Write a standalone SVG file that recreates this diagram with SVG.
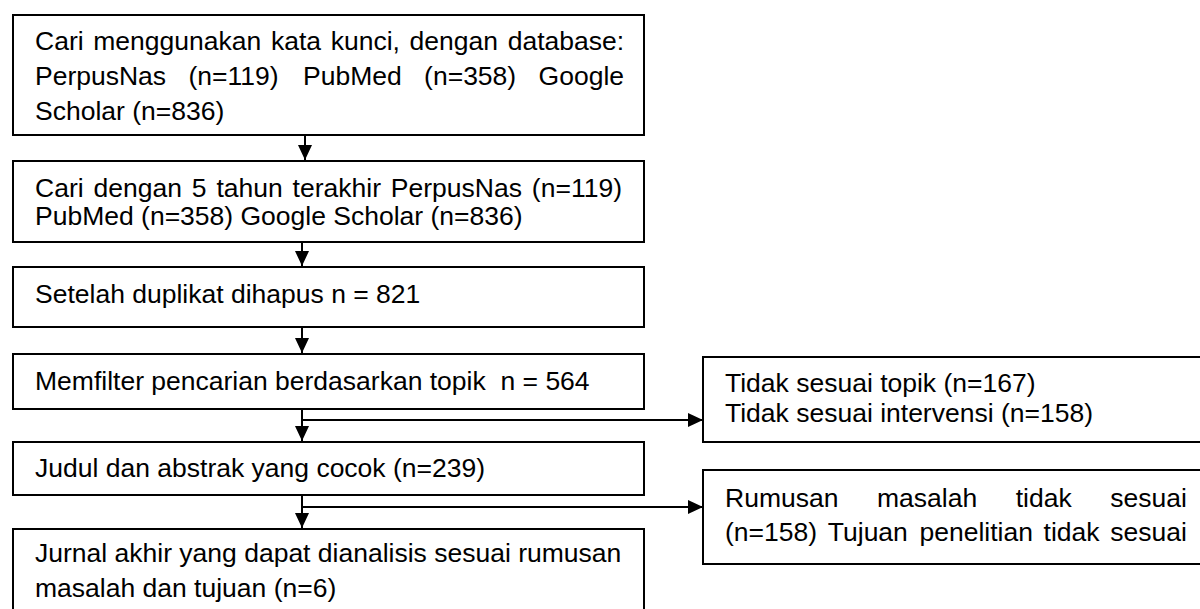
<svg xmlns="http://www.w3.org/2000/svg" width="1200" height="609" viewBox="0 0 1200 609">
<defs>
<style>
.box{fill:#fff;stroke:#000;stroke-width:2}
.t{font-family:"Liberation Sans",Arial,sans-serif;font-size:26.5px;fill:#000}
.c{stroke:#000;stroke-width:2;fill:none}
</style>
<marker id="ah" markerUnits="userSpaceOnUse" markerWidth="16" markerHeight="16" refX="15" refY="7" orient="auto" viewBox="0 0 16 14">
<path d="M0,0 L15,7 L0,14 z" fill="#000"/>
</marker>
</defs>
<rect width="1200" height="609" fill="#fff"/>
<g id="connectors">
<line class="c" x1="305" y1="135" x2="305" y2="160" marker-end="url(#ah)"/>
<line class="c" x1="302" y1="242" x2="302" y2="266" marker-end="url(#ah)"/>
<line class="c" x1="302" y1="327" x2="302" y2="353" marker-end="url(#ah)"/>
<line class="c" x1="302" y1="409" x2="302" y2="441" marker-end="url(#ah)"/>
<line class="c" x1="302" y1="420" x2="703" y2="420" marker-end="url(#ah)"/>
<line class="c" x1="302" y1="495" x2="302" y2="528" marker-end="url(#ah)"/>
<line class="c" x1="302" y1="507" x2="703" y2="507" marker-end="url(#ah)"/>
</g>
<g id="n1">
<rect class="box" x="13" y="15" width="631" height="120"/>
<text class="t" y="50"><tspan x="35">Cari</tspan><tspan x="93.3">menggunakan</tspan><tspan x="270.9">kata</tspan><tspan x="330.7">kunci,</tspan><tspan x="409.6">dengan</tspan><tspan x="507.7">database:</tspan></text>
<text class="t" y="85"><tspan x="35">PerpusNas</tspan><tspan x="188.5">(n=119)</tspan><tspan x="303">PubMed</tspan><tspan x="424.1">(n=358)</tspan><tspan x="538.6">Google</tspan></text>
<text class="t" x="35" y="120">Scholar (n=836)</text>
</g>
<g id="n2">
<rect class="box" x="13" y="161" width="631" height="81"/>
<text class="t" y="197"><tspan x="35">Cari</tspan><tspan x="93.5">dengan</tspan><tspan x="191.8">5</tspan><tspan x="216.4">tahun</tspan><tspan x="292.6">terakhir</tspan><tspan x="390.85">PerpusNas</tspan><tspan x="531.85">(n=119)</tspan></text>
<text class="t" x="35" y="225">PubMed (n=358) Google Scholar (n=836)</text>
</g>
<g id="n3">
<rect class="box" x="13" y="267" width="631" height="60"/>
<text class="t" x="35" y="303">Setelah duplikat dihapus n = 821</text>
</g>
<g id="n4">
<rect class="box" x="13" y="354" width="631" height="55"/>
<text class="t" x="35" y="390" xml:space="preserve">Memfilter pencarian berdasarkan topik  n = 564</text>
</g>
<g id="n5">
<rect class="box" x="13" y="442" width="631" height="53"/>
<text class="t" x="35" y="477">Judul dan abstrak yang cocok (n=239)</text>
</g>
<g id="n6">
<rect class="box" x="13" y="529" width="631" height="90"/>
<text class="t" x="35" y="562">Jurnal akhir yang dapat dianalisis sesuai rumusan</text>
<text class="t" x="35" y="597">masalah dan tujuan (n=6)</text>
</g>
<g id="nA">
<rect class="box" x="703" y="357" width="510" height="85"/>
<text class="t" x="725" y="392">Tidak sesuai topik (n=167)</text>
<text class="t" x="725" y="422">Tidak sesuai intervensi (n=158)</text>
</g>
<g id="nB">
<rect class="box" x="703" y="470" width="510" height="94"/>
<text class="t" y="507"><tspan x="725">Rumusan</tspan><tspan x="877">masalah</tspan><tspan x="1015.7">tidak</tspan><tspan x="1110.3">sesuai</tspan></text>
<text class="t" y="541"><tspan x="725">(n=158)</tspan><tspan x="827.8">Tujuan</tspan><tspan x="919.5">penelitian</tspan><tspan x="1043.6">tidak</tspan><tspan x="1110.3">sesuai</tspan></text>
</g>
</svg>
